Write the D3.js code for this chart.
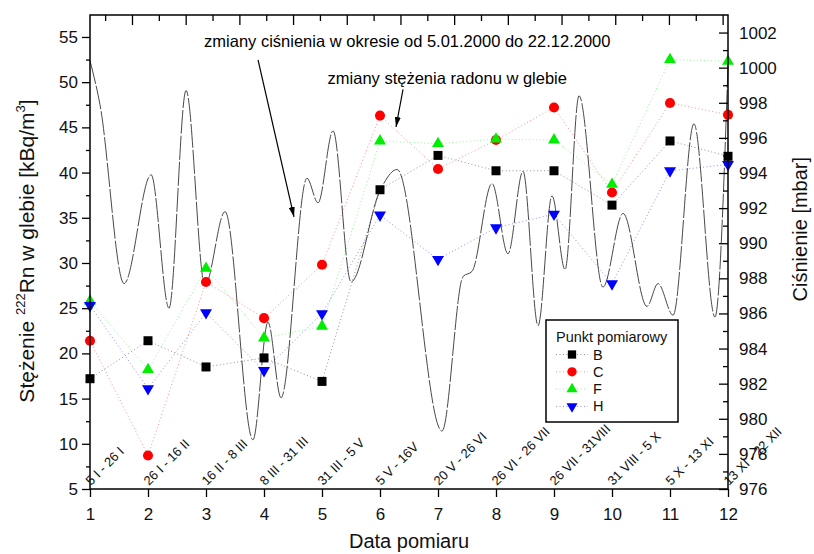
<!DOCTYPE html>
<html>
<head>
<meta charset="utf-8">
<script src="https://cdn.jsdelivr.net/npm/d3@7"></script>
<style>
  body { margin: 0; background: #fff; }
  svg { display: block; font-family: "Liberation Sans", Arial, sans-serif; }
</style>
</head>
<body>
<div id="wrapper"></div>
<script>
// measurement number on the x axis
const points = [1, 2, 3, 4, 5, 6, 7, 8, 9, 10, 11, 12];
const periodLabels = ["5 I - 26 I", "26 I - 16 II", "16 II - 8 III", "8 III - 31 III",
  "31 III - 5 V", "5 V - 16V", "20 V - 26 VI", "26 VI - 26 VII", "26 VII - 31VIII",
  "31 VIII - 5 X", "5 X - 13 XI", "13 XI - 22 XII"];
// radon concentration [kBq/m3] for each measuring point
const seriesB = [17.2, 21.4, 18.5, 19.5, 16.9, 38.1, 41.9, 40.2, 40.2, 36.4, 43.5, 41.8];
const seriesC = [21.4, 8.7, 27.9, 23.9, 29.8, 46.3, 40.4, 43.6, 47.2, 37.8, 47.7, 46.4];
const seriesF = [25.8, 18.2, 29.4, 21.7, 23.0, 43.5, 43.2, 43.7, 43.6, 38.7, 52.5, 52.3];
const seriesH = [25.3, 16.1, 24.5, 18.1, 24.4, 35.3, 30.4, 33.9, 35.4, 27.7, 40.2, 40.9];
// pressure curve (day of year, mbar)
const pressureDay = [5, 10.5, 23.8, 38.7, 48.6, 58.0, 68.4, 79.5, 94.9, 103.2, 110.4, 124.7,
  130.8, 139.1, 149.0, 165.0, 174.4, 199.2, 210.8, 215.8, 226.8, 235.6, 243.9, 252.2, 259.9,
  267.1, 274.8, 288.0, 299.1, 312.3, 318.4, 326.7, 338.2, 349.8, 357];
const pressureMbar = [1000.4, 997.9, 987.7, 993.9, 986.3, 998.7, 987.6, 991.8, 978.8, 985.5,
  981.2, 993.7, 992.3, 996.4, 987.8, 993.0, 994.2, 979.3, 988.1, 988.4, 993.4, 989.4, 994.1,
  985.3, 992.7, 988.5, 998.4, 987.5, 991.7, 986.4, 987.7, 985.9, 996.8, 985.8, 1000.1];
// tick values
const leftTicks = d3.range(5, 56, 5);
const leftMinor = d3.range(7.5, 56, 5);
const rightTicks = d3.range(976, 1003, 2);
const rightMinor = d3.range(977, 1003, 2);
const topTicks = d3.range(0, 12, 1);
const topMinor = d3.range(-0.5, 11.1, 1);

const series = [
  { name: "B", values: seriesB, color: "#000000", shape: d3.symbolSquare, size: 81, rot: 0 },
  { name: "C", values: seriesC, color: "#ff0000", shape: d3.symbolCircle, size: 80, rot: 0 },
  { name: "F", values: seriesF, color: "#00ee00", shape: d3.symbolTriangle, size: 62, rot: 0 },
  { name: "H", values: seriesH, color: "#0000ff", shape: d3.symbolTriangle, size: 62, rot: 180 }
];

const dimensions = {
  width: 814,
  height: 554,
  margin: { top: 15, right: 86, bottom: 65, left: 90 }
};
dimensions.boundedWidth = dimensions.width - dimensions.margin.left - dimensions.margin.right;
dimensions.boundedHeight = dimensions.height - dimensions.margin.top - dimensions.margin.bottom;

const svg = d3.select("#wrapper").append("svg")
  .attr("width", dimensions.width)
  .attr("height", dimensions.height);

const bounds = svg.append("g")
  .attr("transform", `translate(${dimensions.margin.left},${dimensions.margin.top})`);

const W = dimensions.boundedWidth, H = dimensions.boundedHeight;

// scales
const xScale = d3.scaleLinear().domain([1, 12]).range([0, W]);
const yScale = d3.scaleLinear().domain([5, 57.43]).range([H, 0]);
const yRight = d3.scaleLinear().domain([976, 1003]).range([H, 0]);
const dayScale = d3.scaleLinear().domain([5, 357]).range([0, W]);
const topScale = d3.scaleLinear().domain([-0.782, 11.1]).range([0, W]);

// pressure curve
const pressureLine = d3.line()
  .x((d, i) => dayScale(pressureDay[i]))
  .y(d => yRight(d))
  .curve(d3.curveMonotoneX);
bounds.append("path")
  .attr("d", pressureLine(pressureMbar))
  .attr("fill", "none")
  .attr("stroke", "#333")
  .attr("stroke-width", 0.9)
  .attr("stroke-dasharray", "24,2");

// dotted series lines
const seriesLine = d3.line()
  .x((d, i) => xScale(points[i]))
  .y(d => yScale(d));
series.forEach(s => {
  bounds.append("path")
    .attr("d", seriesLine(s.values))
    .attr("fill", "none")
    .attr("stroke", s.color)
    .attr("stroke-opacity", 0.55)
    .attr("stroke-width", 0.8)
    .attr("stroke-dasharray", "1,2.5");
});
series.forEach(s => {
  const sym = d3.symbol().type(s.shape).size(s.size);
  bounds.append("g").selectAll("path")
    .data(s.values)
    .join("path")
    .attr("d", sym)
    .attr("fill", s.color)
    .attr("transform", (d, i) => `translate(${xScale(points[i])},${yScale(d)}) rotate(${s.rot})`);
});

// period labels
bounds.append("g").selectAll("text")
  .data(periodLabels)
  .join("text")
  .attr("transform", (d, i) => `translate(${xScale(points[i]) + 1},${H - 3}) rotate(-45)`)
  .attr("font-size", 13)
  .attr("fill", "#111")
  .text(d => d);

// axes
function styleAxis(g) {
  g.select(".domain").remove();
  g.selectAll(".tick line").attr("stroke", "#000").attr("stroke-width", 1.3);
  g.selectAll(".tick text").attr("fill", "#111").attr("font-size", 17)
    .attr("font-family", "\"Liberation Sans\", Arial, sans-serif");
}
bounds.append("g")
  .call(d3.axisLeft(yScale).tickValues(leftTicks).tickSize(8).tickPadding(4).tickSizeOuter(0))
  .call(styleAxis);
bounds.append("g")
  .call(d3.axisLeft(yScale).tickValues(leftMinor).tickSize(4).tickFormat("").tickSizeOuter(0))
  .call(styleAxis);
bounds.append("g")
  .attr("transform", `translate(0,${H})`)
  .call(d3.axisBottom(xScale).tickValues(points).tickSize(8).tickPadding(11).tickSizeOuter(0))
  .call(styleAxis);
bounds.append("g")
  .attr("transform", `translate(${W},0)`)
  .call(d3.axisRight(yRight).tickValues(rightTicks).tickFormat(d3.format("d"))
    .tickSize(-9).tickPadding(11).tickSizeOuter(0))
  .call(styleAxis);
bounds.append("g")
  .attr("transform", `translate(${W},0)`)
  .call(d3.axisRight(yRight).tickValues(rightMinor).tickSize(-5).tickFormat("").tickSizeOuter(0))
  .call(styleAxis);
bounds.append("g")
  .call(d3.axisTop(topScale).tickValues(topTicks).tickSize(-10).tickFormat("").tickSizeOuter(0))
  .call(styleAxis);
bounds.append("g")
  .call(d3.axisTop(topScale).tickValues(topMinor).tickSize(-6).tickFormat("").tickSizeOuter(0))
  .call(styleAxis);

// frame
bounds.append("rect")
  .attr("width", W).attr("height", H)
  .attr("fill", "none").attr("stroke", "#000").attr("stroke-width", 1.5);

// axis titles
const leftTitle = svg.append("text")
  .attr("transform", `translate(34,${dimensions.margin.top + H / 2 - 1}) rotate(-90)`)
  .attr("text-anchor", "middle")
  .attr("font-size", 21)
  .attr("fill", "#111");
leftTitle.append("tspan").text("Stężenie ");
leftTitle.append("tspan").attr("font-size", 13).attr("dy", -9).text("222");
leftTitle.append("tspan").attr("dy", 9).text("Rn w glebie [kBq/m");
leftTitle.append("tspan").attr("font-size", 13).attr("dy", -9).text("3");
leftTitle.append("tspan").attr("dy", 9).text("]");

svg.append("text")
  .attr("transform", `translate(807,${dimensions.margin.top + yRight(990.8)}) rotate(-90)`)
  .attr("text-anchor", "middle")
  .attr("font-size", 20)
  .attr("fill", "#111")
  .text("Ciśnienie [mbar]");

svg.append("text")
  .attr("x", dimensions.margin.left + xScale(6.5))
  .attr("y", 548)
  .attr("text-anchor", "middle")
  .attr("font-size", 20)
  .attr("fill", "#111")
  .text("Data pomiaru");

// annotations with arrows (positions in data units)
svg.append("defs").append("marker")
  .attr("id", "arrow")
  .attr("viewBox", "0 0 10 6")
  .attr("refX", 10).attr("refY", 3)
  .attr("markerWidth", 10).attr("markerHeight", 6)
  .attr("markerUnits", "userSpaceOnUse")
  .attr("orient", "auto")
  .append("path").attr("d", "M0,0 L10,3 L0,6 Z").attr("fill", "#000");

const notes = bounds.append("g");
notes.append("text")
  .attr("x", xScale(6.47)).attr("y", yScale(53.9))
  .attr("text-anchor", "middle").attr("font-size", 16.5).attr("fill", "#000")
  .text("zmiany ciśnienia w okresie od 5.01.2000 do 22.12.2000");
notes.append("text")
  .attr("x", xScale(7.16)).attr("y", yScale(49.75))
  .attr("text-anchor", "middle").attr("font-size", 16.5).attr("fill", "#000")
  .text("zmiany stężenia radonu w glebie");
notes.append("line")
  .attr("x1", xScale(3.897)).attr("y1", yScale(52.46))
  .attr("x2", xScale(4.517)).attr("y2", yScale(35.09))
  .attr("stroke", "#000").attr("stroke-width", 1.2).attr("marker-end", "url(#arrow)");
notes.append("line")
  .attr("x1", xScale(6.397)).attr("y1", yScale(49.2))
  .attr("x2", xScale(6.276)).attr("y2", yScale(45.04))
  .attr("stroke", "#000").attr("stroke-width", 1.2).attr("marker-end", "url(#arrow)");

// legend
const legend = svg.append("g").attr("transform", "translate(546,320)");
legend.append("rect")
  .attr("width", 132).attr("height", 102)
  .attr("fill", "#fff").attr("stroke", "#000").attr("stroke-width", 1.5);
legend.append("text")
  .attr("x", 10).attr("y", 22)
  .attr("font-size", 14.5).attr("fill", "#111")
  .text("Punkt pomiarowy");
series.forEach((s, i) => {
  const row = legend.append("g").attr("transform", `translate(0,${34.5 + i * 17.3})`);
  row.append("line")
    .attr("x1", 10).attr("x2", 42)
    .attr("stroke", s.color).attr("stroke-opacity", 0.55)
    .attr("stroke-width", 0.8).attr("stroke-dasharray", "1,2.5");
  row.append("path")
    .attr("d", d3.symbol().type(s.shape).size(s.size * 0.85))
    .attr("fill", s.color)
    .attr("transform", `translate(26,0) rotate(${s.rot})`);
  row.append("text")
    .attr("x", 47).attr("y", 5)
    .attr("font-size", 14.5).attr("fill", "#111")
    .text(s.name);
});
</script>
</body>
</html>
